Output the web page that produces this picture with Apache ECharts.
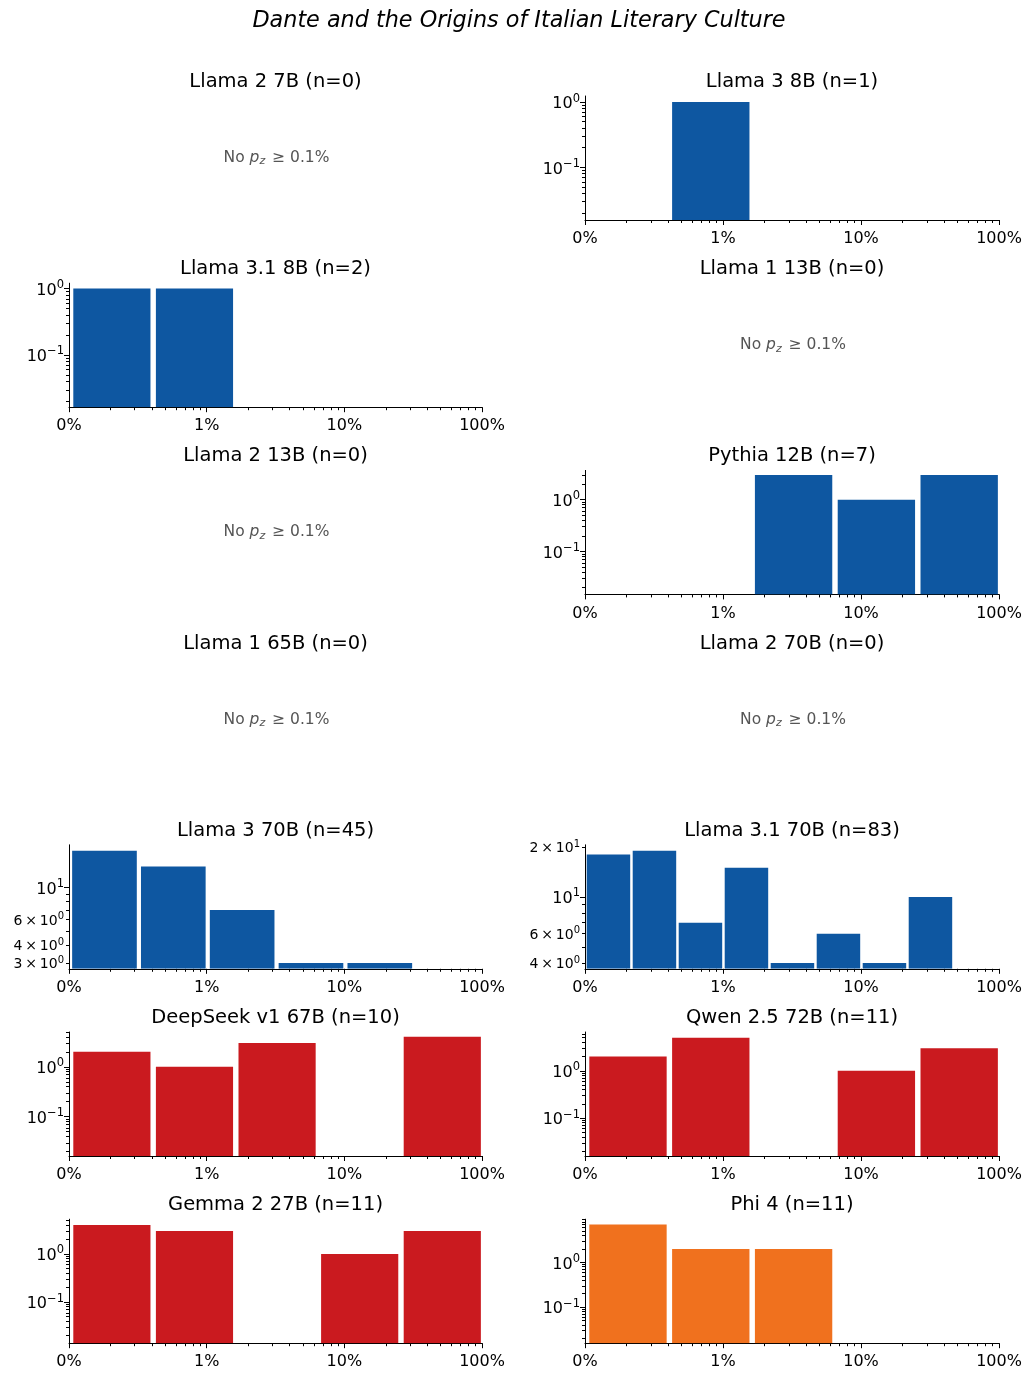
<!DOCTYPE html>
<html>
<head>
<meta charset="utf-8">
<script src="https://cdn.jsdelivr.net/npm/echarts@6/dist/echarts.min.js"></script>
<style>
  html, body { margin: 0; padding: 0; background: #fff; }
  #chart { width: 1032px; height: 1378px; }
</style>
</head>
<body>
<div id="chart"></div>
<script>
// panel order is row-major, two columns
const panelTitles = [
  "Llama 2 7B (n=0)", "Llama 3 8B (n=1)",
  "Llama 3.1 8B (n=2)", "Llama 1 13B (n=0)",
  "Llama 2 13B (n=0)", "Pythia 12B (n=7)",
  "Llama 1 65B (n=0)", "Llama 2 70B (n=0)",
  "Llama 3 70B (n=45)", "Llama 3.1 70B (n=83)",
  "DeepSeek v1 67B (n=10)", "Qwen 2.5 72B (n=11)",
  "Gemma 2 27B (n=11)", "Phi 4 (n=11)"
];
// histogram counts per log-spaced bin between 0.1% and 100%
const panelCounts = [
  [], [0, 1, 0, 0, 0],
  [1, 1, 0, 0, 0], [],
  [], [0, 0, 3, 1, 3],
  [], [],
  [18, 14, 7, 3, 3, 0], [18, 19, 7, 15, 4, 6, 4, 10, 0],
  [2, 1, 3, 0, 4], [2, 5, 0, 1, 3],
  [4, 3, 0, 1, 3], [7, 2, 2, 0, 0]
];
const panelGroup = [
  "meta", "meta", "meta", "meta", "meta", "other", "meta", "meta",
  "meta", "meta", "china", "china", "google", "microsoft"
];
const groupColors = {meta: "#0E57A1", other: "#0E57A1", china: "#CA1A1F", google: "#CA1A1F", microsoft: "#F0711E"};
const yRanges = [
  null, [0.0156, 1.24],
  [0.0164, 1.2], null,
  null, [0.0148, 3.67],
  null, null,
  [2.74, 19.8], [3.69, 20.6],
  [0.0163, 5.0], [0.0158, 6.6],
  [0.014, 5.25], [0.0156, 9.25]
];
const yMinorLabelled = {8: [3, 4, 6], 9: [4, 6, 20]};
const xMajor = [0.001, 0.01, 0.1, 1];
const xLabels = ["0%", "1%", "10%", "100%"];
const suptitle = "Dante and the Origins of Italian Literary Culture";

const FONT = "'DejaVu Sans', sans-serif";
const colLeft = [69, 585];
const colWidth = [413, 414];
const rowTop0 = 96, rowPitch = 187.2, axH = 124;
const rwidth = 0.95; // relative bar width, applied in linear units like matplotlib

function xMinorTicks() {
  const out = [];
  for (let e = -3; e < 0; e++) for (let m = 2; m <= 9; m++) out.push(m * Math.pow(10, e));
  return out;
}
function yTicks(range) {
  const major = [], minor = [];
  for (let e = -3; e <= 2; e++) {
    const p = Math.pow(10, e);
    if (p >= range[0] && p <= range[1]) major.push(p);
    for (let m = 2; m <= 9; m++) {
      const v = m * p;
      if (v >= range[0] && v <= range[1]) minor.push(v);
    }
  }
  return {major, minor};
}
function sciLabel(v) {
  const e = Math.floor(Math.log10(v) + 1e-9);
  const m = Math.round(v / Math.pow(10, e));
  const es = e < 0 ? "\u2212" + (-e) : String(e);
  if (m === 1) return "{a|10}{s|" + es + "}";
  return "{b|" + m + "\u2009\u00d7\u200910}{t|" + es + "}";
}

const chart = echarts.init(document.getElementById("chart"), null, {renderer: "canvas"});
const grids = [], xAxes = [], yAxes = [], series = [];
const graphics = [{
  type: "text", x: 519, y: 21,
  style: {text: suptitle, fill: "#000", font: "italic 22.3px " + FONT, align: "center", verticalAlign: "middle"}
}];

let gi = 0;
panelTitles.forEach((title, i) => {
  const row = Math.floor(i / 2), col = i % 2;
  const left = colLeft[col], top = rowTop0 + row * rowPitch, w = colWidth[col];
  graphics.push({
    type: "text", x: left + w / 2, y: top - 14,
    style: {text: title, fill: "#000", font: "19.5px " + FONT, align: "center", verticalAlign: "middle"}
  });
  const counts = panelCounts[i];
  if (!counts.length) {
    graphics.push({
      type: "text", x: left + w / 2 + 1, y: top + axH / 2,
      style: {
        text: "{a|No }{p|p}{z|z}{a| \u2265 0.1%}",
        align: "center", verticalAlign: "middle",
        rich: {
          a: {fontSize: 15.5, fontFamily: FONT, fill: "#555"},
          p: {fontSize: 15.5, fontFamily: FONT, fontStyle: "italic", fill: "#555"},
          z: {fontSize: 11, fontFamily: FONT, fontStyle: "italic", fill: "#555", padding: [7, 2, 0, 0]}
        }
      }
    });
    return;
  }
  const range = yRanges[i];
  const yt = yTicks(range);
  const minorLab = (yMinorLabelled[i] || []).filter(v => v >= range[0] && v <= range[1]);
  grids.push({left: left, top: top, width: w, height: axH, containLabel: false});
  const labelRich = {
    a: {fontSize: 16, fontFamily: FONT, color: "#000", padding: [4, 0, 0, 0]},
    s: {fontSize: 11.5, fontFamily: FONT, color: "#000", padding: [0, 0, 7, 0]},
    b: {fontSize: 14, fontFamily: FONT, color: "#000", padding: [3, 0, 0, 0]},
    t: {fontSize: 10, fontFamily: FONT, color: "#000", padding: [0, 0, 6, 0]}
  };
  xAxes.push({
    type: "log", logBase: 10, gridIndex: gi, position: "bottom", min: 0.001, max: 1,
    axisLine: {show: true, onZero: false, lineStyle: {color: "#000", width: 1}},
    axisTick: {show: true, length: 5, customValues: xMajor, lineStyle: {color: "#000", width: 1}},
    axisLabel: {
      show: true, customValues: xMajor, margin: 11, fontSize: 16, fontFamily: FONT, color: "#000",
      formatter: v => xLabels[xMajor.findIndex(t => Math.abs(Math.log10(t) - Math.log10(v)) < 1e-6)] || ""
    },
    splitLine: {show: false}, minorTick: {show: false}
  }, {
    type: "log", logBase: 10, gridIndex: gi, position: "bottom", min: 0.001, max: 1,
    axisLine: {show: false},
    axisTick: {show: true, length: 3, customValues: xMinorTicks(), lineStyle: {color: "#000", width: 1}},
    axisLabel: {show: false}, splitLine: {show: false}
  });
  yAxes.push({
    type: "log", logBase: 10, gridIndex: gi, position: "left", min: range[0], max: range[1],
    axisLine: {show: true, onZero: false, lineStyle: {color: "#000", width: 1}},
    axisTick: {show: true, length: 5, customValues: yt.major, lineStyle: {color: "#000", width: 1}},
    axisLabel: {
      show: true, customValues: yt.major.concat(minorLab), margin: 5, formatter: sciLabel, rich: labelRich
    },
    splitLine: {show: false}
  }, {
    type: "log", logBase: 10, gridIndex: gi, position: "left", min: range[0], max: range[1],
    axisLine: {show: false},
    axisTick: {show: true, length: 3, customValues: yt.minor, lineStyle: {color: "#000", width: 1}},
    axisLabel: {show: false}, splitLine: {show: false}
  });
  const nb = counts.length;
  const data = counts.map((c, k) => {
    const lo = Math.pow(10, -3 + 3 * k / nb), hi = Math.pow(10, -3 + 3 * (k + 1) / nb);
    const inset = (hi - lo) * (1 - rwidth) / 2;
    return [lo + inset, hi - inset, c];
  }).filter(d => d[2] > 0);
  const color = groupColors[panelGroup[i]];
  series.push({
    type: "custom", xAxisIndex: 2 * gi, yAxisIndex: 2 * gi, clip: true,
    encode: {x: [0, 1], y: 2},
    data: data,
    renderItem: (params, api) => {
      const cnt = api.value(2);
      const pTop = api.coord([api.value(0), cnt]);
      const pEnd = api.coord([api.value(1), cnt]);
      const bottom = params.coordSys.y + params.coordSys.height;
      return {
        type: "rect",
        shape: {x: pTop[0], y: pTop[1], width: pEnd[0] - pTop[0], height: bottom - pTop[1]},
        style: {fill: color}
      };
    }
  });
  gi++;
});

chart.setOption({
  backgroundColor: "#fff",
  animation: false,
  grid: grids,
  xAxis: xAxes,
  yAxis: yAxes,
  series: series,
  graphic: graphics
});
</script>
</body>
</html>
